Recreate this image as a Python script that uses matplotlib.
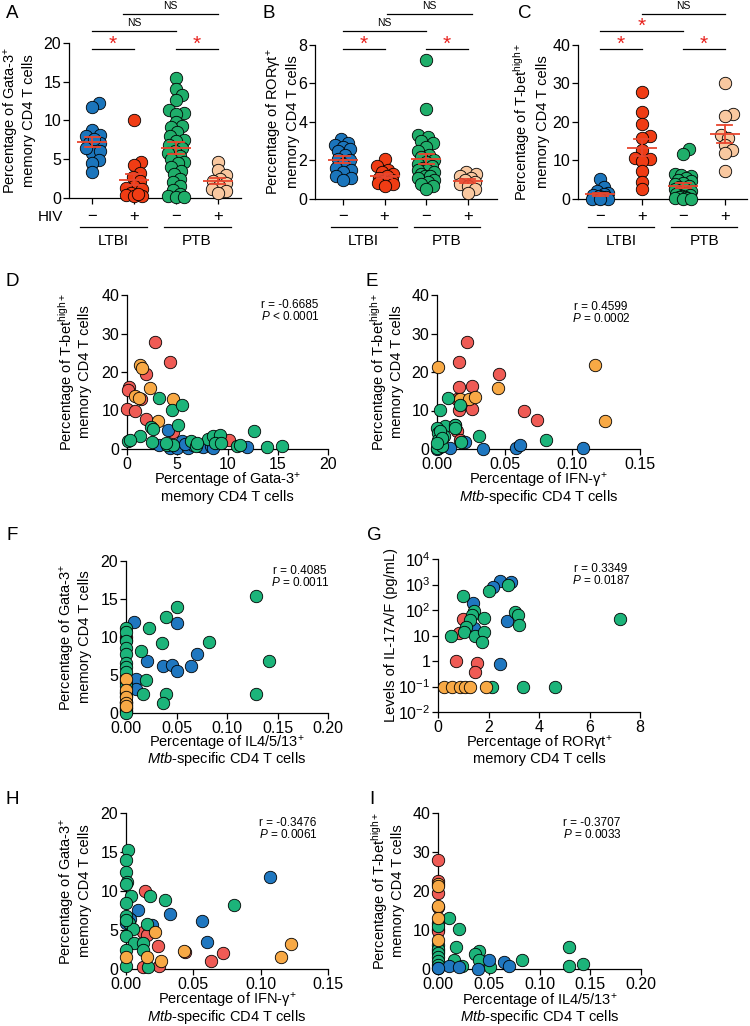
import numpy as np
import matplotlib
matplotlib.use("Agg")
import matplotlib.pyplot as plt
from matplotlib.transforms import blended_transform_factory

plt.rcParams['font.family'] = ['Liberation Sans', 'DejaVu Sans']
plt.rcParams['mathtext.fontset'] = 'custom'
plt.rcParams['mathtext.rm'] = 'Liberation Sans'
plt.rcParams['mathtext.it'] = 'Liberation Sans:italic'
plt.rcParams['mathtext.bf'] = 'Liberation Sans:bold'
plt.rcParams['axes.unicode_minus'] = False

# ---------------- data: top dot plots ----------------
groups_top = ["LTBI HIV-", "LTBI HIV+", "PTB HIV-", "PTB HIV+"]
hiv_signs = ["\u2212", "+", "\u2212", "+"]
group_names = ["LTBI", "PTB"]

gata_ltbi_neg = [12.2, 11.8, 8.8, 8.0, 8.1, 7.1, 6.7, 7.1, 5.8, 6.0, 4.9, 4.5, 3.4, 6.4, 7.6]
gata_ltbi_pos = [10.0, 4.7, 4.3, 3.2, 2.7, 2.2, 1.6, 1.3, 1.1, 0.7, 0.4, 0.2, 0.3, 0.5]
gata_ptb_neg = [15.5, 14.1, 13.3, 12.6, 11.3, 11.0, 10.8, 9.8, 9.3, 9.2, 8.5, 8.0, 7.5, 7.3,
                6.8, 6.5, 6.1, 5.8, 5.4, 5.0, 4.6, 4.5, 4.0, 3.5, 3.1, 2.5, 2.0, 1.5, 1.0,
                0.5, 0.2, 0.1, 0.1]
gata_ptb_pos = [4.7, 3.6, 3.0, 2.5, 2.2, 1.9, 1.6, 1.2, 0.9, 0.6]

ror_ltbi_neg = [3.1, 2.9, 2.8, 2.7, 2.6, 2.5, 2.3, 2.1, 2.0, 1.8, 1.6, 1.5, 1.4, 1.2, 1.1, 1.0]
ror_ltbi_pos = [2.1, 1.7, 1.5, 1.4, 1.3, 1.2, 1.1, 1.0, 0.95, 0.9, 0.85, 0.8, 0.7]
ror_ptb_neg = [7.2, 4.65, 3.35, 3.2, 3.0, 2.9, 2.7, 2.5, 2.3, 2.2, 2.0, 1.9, 1.8, 1.7, 1.6,
               1.5, 1.5, 1.4, 1.3, 1.2, 1.2, 1.1, 1.0, 0.9, 0.8, 0.7, 0.5]
ror_ptb_pos = [1.4, 1.3, 1.2, 1.1, 1.0, 0.9, 0.8, 0.7, 0.5, 0.3]

tbet_ltbi_neg = [5.2, 3.0, 2.2, 1.5, 1.2, 1.0, 0.8, 0.5, 0.4, 0.3, 0.2, 0.1, 0.1, 0.0]
tbet_ltbi_pos = [27.8, 22.6, 19.5, 16.4, 15.8, 12.6, 10.6, 10.3, 9.8, 7.3, 4.5, 2.5]
tbet_ptb_neg = [13.0, 11.7, 6.6, 6.3, 5.9, 5.4, 5.0, 4.6, 4.2, 3.8, 3.4, 3.1, 2.8, 2.5, 2.2,
                1.9, 1.6, 1.3, 1.0, 0.8, 0.6, 0.4, 0.3, 0.2, 0.1, 0.1]
tbet_ptb_pos = [30.2, 22.0, 21.5, 16.5, 15.8, 14.0, 12.8, 12.0, 7.4]

# ---------------- data: correlation panels ----------------
# D: Gata-3 (x) vs T-bet high (y)
d_blue_x = [4.1, 3.2, 4.3, 5.0, 5.5, 6.1, 6.6, 7.3, 7.6, 8.4, 11.9, 8.6, 5.8]
d_blue_y = [5.0, 1.1, 0.3, 0.3, 2.2, 0.3, 1.1, 0.7, 0.4, 0.7, 0.4, 0.3, 1.3]
d_red_x = [2.74, 4.23, 1.88, 0.2, 0.1, 0.0, 0.8, 1.9, 4.6, 10.1, 1.4]
d_red_y = [27.9, 22.7, 19.4, 16.1, 15.4, 10.4, 9.8, 7.8, 4.4, 2.4, 12.9]
d_green_x = [3.2, 4.5, 5.5, 5.1, 2.4, 1.3, 0.1, 0.3, 2.5, 4.0, 4.6, 6.4, 6.9, 8.1, 8.6, 9.3,
             8.8, 9.4, 10.9, 11.2, 12.6, 13.9, 15.4, 7.0, 2.6, 3.9]
d_green_y = [13.2, 10.2, 11.5, 6.3, 5.7, 3.3, 2.0, 2.3, 1.8, 1.1, 1.0, 2.0, 0.8, 2.6, 3.3, 3.7,
             1.6, 1.6, 0.7, 1.0, 4.6, 0.4, 0.7, 1.5, 5.2, 1.5]
d_orange_x = [1.32, 1.5, 2.3, 0.83, 1.2, 4.56, 3.1]
d_orange_y = [21.9, 21.0, 15.8, 13.8, 13.2, 12.9, 7.4]

# E: IFN-g (x) vs T-bet high (y)
e_blue_x = [0.0098, 0.0204, 0.0337, 0.0583, 0.0615, 0.108, 0.0, 0.002]
e_blue_y = [0.3, 1.8, 0.0, 0.3, 1.1, 0.3, 0.0, 0.6]
e_red_x = [0.0221, 0.0165, 0.0455, 0.0165, 0.0258, 0.0148, 0.016, 0.0258, 0.0644, 0.0738,
           0.0135, 0.015, 0.017]
e_red_y = [27.9, 22.7, 19.4, 16.0, 16.3, 13.0, 10.2, 10.4, 9.8, 7.6, 6.3, 4.6, 2.4]
e_green_x = [0.0081, 0.0025, 0.0172, 0.0061, 0.0135, 0.0, 0.001, 0.005, 0.001, 0.001, 0.0,
             0.0307, 0.0806, 0.018, 0.0135, 0.0037, 0.002, 0.004, 0.0]
e_green_y = [13.2, 10.2, 11.5, 6.1, 6.3, 5.4, 4.1, 3.5, 2.4, 1.1, 0.3, 3.5, 2.4, 1.8, 5.4,
             0.7, 4.8, 2.9, 1.6]
e_orange_x = [0.001, 0.1168, 0.0452, 0.0172, 0.0234, 0.0278, 0.1242]
e_orange_y = [21.3, 21.9, 15.8, 13.0, 13.0, 13.5, 7.2]

# F: IL4/5/13 (x) vs Gata-3 (y)
f_blue_x = [0.0083, 0.0502, 0.0205, 0.070, 0.037, 0.0453, 0.0502, 0.0645, 0.01, 0.01]
f_blue_y = [12.0, 11.8, 6.9, 7.7, 6.2, 6.3, 5.5, 6.2, 4.5, 3.1]
f_red_x = [0.0, 0.0, 0.0, 0.0, 0.0, 0.0, 0.0, 0.0, 0.0, 0.0, 0.0]
f_red_y = [10.0, 9.6, 4.8, 4.2, 2.8, 2.3, 1.5, 1.0, 0.6, 0.3, 0.2]
f_green_x = [0.129, 0.0509, 0.0397, 0.0231, 0.036, 0.0826, 0.0145, 0.142, 0.0195, 0.0172,
             0.0393, 0.0364, 0.129, 0.0, 0.0, 0.0, 0.0, 0.0, 0.0, 0.0, 0.0, 0.0, 0.0, 0.0,
             0.0, 0.0, 0.0]
f_green_y = [15.4, 14.0, 12.6, 11.2, 9.2, 9.3, 8.1, 6.9, 4.4, 2.5, 2.5, 1.3, 2.5, 11.2, 10.6,
             9.5, 8.6, 7.8, 6.6, 6.0, 5.4, 4.0, 3.6, 2.6, 1.5, 0.6, 0.0]
f_orange_x = [0.0, 0.0, 0.0, 0.0, 0.0]
f_orange_y = [4.5, 3.0, 2.1, 1.3, 0.9]

# G: ROR-gt (x) vs IL-17A/F pg/mL (y, log)
g_blue_x = [2.45, 2.18, 2.88, 1.39, 2.75, 1.43, 2.45]
g_blue_y = [1400, 830, 1200, 185, 37, 19, 0.76]
g_red_x = [0.99, 0.82, 0.73, 1.56, 1.46]
g_red_y = [45, 13, 1.0, 0.87, 0.38]
g_green_x = [0.99, 2.02, 2.78, 3.04, 3.17, 3.2, 7.21, 1.43, 1.35, 1.26, 1.83, 1.12, 1.03, 0.5,
             1.46, 1.83, 1.76, 2.14, 3.37, 4.63]
g_green_y = [360, 560, 980, 87, 65, 25, 44, 91, 65, 41, 50, 22, 14, 9.8, 9.8, 14, 5.4, 0.1,
             0.1, 0.1]
g_orange_x = [0.24, 0.56, 0.86, 1.08, 1.28, 1.89]
g_orange_y = [0.1, 0.1, 0.1, 0.1, 0.1, 0.1]

# H: IFN-g (x) vs Gata-3 (y)
h_blue_x = [0.1072, 0.0086, 0.0326, 0.0568, 0.0603, 0.003, 0.019, 0.0]
h_blue_y = [11.75, 7.6, 7.0, 6.2, 3.5, 6.45, 5.7, 5.9]
h_red_x = [0.0141, 0.0128, 0.024, 0.0721, 0.063, 0.0437, 0.0247, 0.0128, 0.0153]
h_red_y = [10.0, 4.7, 2.9, 2.05, 1.07, 2.2, 0.4, 0.25, 4.3]
h_green_x = [0.0012, 0.0, 0.0, 0.0005, 0.0, 0.0037, 0.0, 0.0, 0.0025, 0.0054, 0.0, 0.0062, 0.0,
             0.0128, 0.0128, 0.0153, 0.0178, 0.0289, 0.0803, 0.0, 0.0166, 0.0]
h_green_y = [15.3, 14.0, 12.5, 11.2, 10.9, 9.3, 8.5, 6.75, 5.9, 5.1, 4.2, 3.3, 2.5, 3.3, 2.5,
             5.8, 9.4, 8.8, 8.2, 0.4, 0.3, 6.3]
h_orange_x = [0.0215, 0.0432, 0.0153, 0.0259, 0.0, 0.1228, 0.1154]
h_orange_y = [4.7, 2.35, 1.5, 1.0, 1.6, 3.25, 1.5]

# I: IL4/5/13 (x) vs T-bet high (y)
i_blue_x = [0.0105, 0.021, 0.039, 0.05, 0.0647, 0.0703, 0.0]
i_blue_y = [0.7, 0.4, 0.0, 2.4, 1.7, 0.7, 0.2]
i_red_x = [0.0, 0.0, 0.0, 0.0, 0.0, 0.0, 0.0]
i_red_y = [27.9, 22.6, 19.4, 15.8, 10.3, 9.8, 4.5]
i_green_x = [0.0105, 0.021, 0.0177, 0.0407, 0.0368, 0.04, 0.0154, 0.0236, 0.0509, 0.0828,
             0.1287, 0.1287, 0.1425, 0.0, 0.0, 0.0, 0.0, 0.0, 0.0, 0.0, 0.0, 0.0]
i_green_y = [13.2, 10.3, 5.6, 4.7, 3.85, 2.4, 2.4, 0.7, 0.5, 2.2, 5.6, 0.85, 1.4, 11.8, 11.0,
             6.2, 5.2, 4.1, 3.2, 2.1, 1.1, 0.3]
i_orange_x = [0.0, 0.0, 0.0, 0.0, 0.0]
i_orange_y = [21.9, 21.2, 16.1, 13.2, 7.5]

# ---------------- style ----------------
W, H = 750, 1026
TOP_COLORS = ['#1b75bc', '#f03c14', '#1fae6a', '#f9c8a0']
SC_BLUE, SC_RED, SC_GREEN, SC_ORANGE = '#1f77c0', '#ef5b55', '#1cb47a', '#f8a945'
MEAN_COL = '#e8462e'
STAR_COL = '#e8201c'
MS = 80
TICK_FS = 11.5
LAB_FS = 10.5
LETTER_FS = 13.5

fig = plt.figure(figsize=(W / 100, H / 100), dpi=100)


def add_ax(l, t, r, b):
    return fig.add_axes([l / W, 1 - b / H, (r - l) / W, (b - t) / H])


def fy(py):
    return 1 - py / H


def fx(px):
    return px / W


def style_axes(ax):
    for s in ['top', 'right']:
        ax.spines[s].set_visible(False)
    for s in ['left', 'bottom']:
        ax.spines[s].set_linewidth(0.9)
    ax.tick_params(direction='out', length=4, width=0.9, labelsize=TICK_FS, pad=1.5)


def hline_text(xc, yc, s, fs=LAB_FS):
    fig.text(fx(xc), fy(yc + 4.5), s, ha='center', va='baseline', fontsize=fs)


def vline_text(xc, yc, s, fs=LAB_FS):
    fig.text(fx(xc + 4.5), fy(yc), s, rotation=90, rotation_mode='anchor', ha='center',
             va='baseline', fontsize=fs)


def swarm_offsets(vals, ppu_y, ppc_x, diam=12.0, mind=0.62, maxoff=8.0):
    vals = np.asarray(vals, dtype=float)
    order = np.argsort(vals)
    placed = []
    offs = np.zeros(len(vals))
    cands = [0.0]
    k = 1.0
    while k <= maxoff:
        cands += [k, -k]
        k += 1.0
    thr = (mind * diam) ** 2
    for i in order:
        y = vals[i] * ppu_y
        best = None
        bestd = -1
        bestc = 0.0
        for c in cands:
            dmin = min([(c - px) ** 2 + (y - py) ** 2 for px, py in placed], default=1e9)
            if dmin >= thr:
                best = c
                break
            if dmin > bestd:
                bestd = dmin
                bestc = c
        if best is None:
            best = bestc
        placed.append((best, y))
        offs[i] = best
    return offs / ppc_x


def dot_panel(l, t, r, b, xlim, ymax, yticks, data, bars, ylab_lines, ylab_xs, letter, letter_x,
              hiv_label=False):
    ax = add_ax(l, t, r, b)
    style_axes(ax)
    ax.set_xlim(*xlim)
    ax.set_ylim(0, ymax)
    ax.set_yticks(yticks)
    ax.set_xticks(range(4))
    ax.set_xticklabels([])
    ppu_y = (b - t) / ymax
    ppc_x = (r - l) / (xlim[1] - xlim[0])
    for i, vals in enumerate(data):
        offs = swarm_offsets(vals, ppu_y, ppc_x)
        ax.scatter(i + offs, vals, s=MS, c=TOP_COLORS[i], edgecolors='black', linewidths=0.6,
                   zorder=3, clip_on=False)
        v = np.asarray(vals)
        m = v.mean()
        se = v.std(ddof=1) / np.sqrt(len(v))
        ax.plot([i - 0.36, i + 0.36], [m, m], color=MEAN_COL, lw=1.3, zorder=5, solid_capstyle='butt')
        ax.plot([i - 0.18, i + 0.18], [m + se, m + se], color=MEAN_COL, lw=1.3, zorder=5)
        ax.plot([i - 0.18, i + 0.18], [m - se, m - se], color=MEAN_COL, lw=1.3, zorder=5)
        ax.plot([i, i], [m - se, m + se], color=MEAN_COL, lw=1.3, zorder=5)
    bt = blended_transform_factory(ax.transData, fig.transFigure)
    for i, sgn in enumerate(hiv_signs):
        ax.text(i, fy(217), sgn, transform=bt, ha='center', va='center', fontsize=12)
    for gi, name in enumerate(group_names):
        x0, x1 = 2 * gi - 0.29, 2 * gi + 1.3
        ax.plot([x0, x1], [fy(227), fy(227)], transform=bt, color='black', lw=0.9, clip_on=False)
        ax.text(2 * gi + 0.5, fy(241), name, transform=bt, ha='center', va='center', fontsize=11)
    for (x0, x1, ypx, lab) in bars:
        ax.plot([x0, x1], [fy(ypx), fy(ypx)], transform=bt, color='black', lw=0.9, clip_on=False)
        if lab == '*':
            ax.text((x0 + x1) / 2, fy(ypx - 5), '*', transform=bt, ha='center', va='center',
                    fontsize=15, color=STAR_COL)
        else:
            ax.text((x0 + x1) / 2, fy(ypx - 8), lab, transform=bt, ha='center', va='center',
                    fontsize=7.5)
    for s, xc in zip(ylab_lines, ylab_xs):
        vline_text(xc, (t + b) / 2, s)
    fig.text(fx(letter_x), fy(14), letter, ha='center', va='center', fontsize=LETTER_FS)
    if hiv_label:
        fig.text(fx(50), fy(217), 'HIV', ha='center', va='center', fontsize=11)
    return ax


lbl_gata = ['Percentage of Gata-3$^{+}$', 'memory CD4 T cells']
lbl_tbet = ['Percentage of T-bet$^{\\rm high+}$', 'memory CD4 T cells']
lbl_ifn = ['Percentage of IFN-\u03b3$^{+}$', '$\\it{Mtb}$-specific CD4 T cells']
lbl_il4 = ['Percentage of IL4/5/13$^{+}$', '$\\it{Mtb}$-specific CD4 T cells']
lbl_ror = ['Percentage of ROR\u03b3t$^{+}$', 'memory CD4 T cells']
lbl_il17 = ['Levels of IL-17A/F (pg/mL)']

dot_panel(69, 43, 241, 198, (-0.55, 3.55), 20, [0, 5, 10, 15, 20],
          [gata_ltbi_neg, gata_ltbi_pos, gata_ptb_neg, gata_ptb_pos],
          [(0, 1, 49, '*'), (2, 3, 49, '*'), (0, 2, 31, 'NS'), (0.74, 3, 14, 'NS')],
          lbl_gata, [11, 29], 'A', 12, hiv_label=True)
dot_panel(315, 45, 497, 199, (-0.67, 3.7), 8, [0, 2, 4, 6, 8],
          [ror_ltbi_neg, ror_ltbi_pos, ror_ptb_neg, ror_ptb_pos],
          [(0, 1, 49, '*'), (2, 3, 49, '*'), (0, 2, 31, 'NS'), (1.05, 3.1, 14, 'NS')],
          lbl_ror, [274, 293], 'B', 269)
dot_panel(578, 45, 747, 199, (-0.53, 3.53), 40, [0, 10, 20, 30, 40],
          [tbet_ltbi_neg, tbet_ltbi_pos, tbet_ptb_neg, tbet_ptb_pos],
          [(0, 1, 49, '*'), (2, 3, 49, '*'), (0, 2, 31, '*'), (1.0, 3.0, 14, 'NS')],
          lbl_tbet, [522, 542], 'C', 525)


def scatter_panel(l, t, r, b, xlim, ylim, xticks, xtl, yticks, ytl, groups, xlab_lines, ylab_lines,
                  ylab_xs, xlab_ys, stat_lines, stat_xy, letter, letter_xy, logy=False):
    ax = add_ax(l, t, r, b)
    style_axes(ax)
    if logy:
        ax.set_yscale('log')
    ax.set_xlim(*xlim)
    ax.set_ylim(*ylim)
    ax.set_xticks(xticks)
    ax.set_xticklabels(xtl)
    ax.set_yticks(yticks)
    ax.set_yticklabels(ytl)
    if logy:
        ax.tick_params(which='minor', direction='out', length=2, width=0.6)
    for xs, ys, col in groups:
        ax.scatter(xs, ys, s=MS, c=col, edgecolors='black', linewidths=0.6, zorder=3,
                   clip_on=False)
    for s, yc in zip(xlab_lines, xlab_ys):
        hline_text((l + r) / 2, yc, s)
    for s, xc in zip(ylab_lines, ylab_xs):
        vline_text(xc, (t + b) / 2, s)
    for k, s in enumerate(stat_lines):
        hline_text(stat_xy[0], stat_xy[1] + 12 * k, s, fs=8.5)
    fig.text(fx(letter_xy[0]), fy(letter_xy[1]), letter, ha='center', va='center', fontsize=LETTER_FS)
    return ax


t015 = [0, 0.05, 0.10, 0.15]
t020 = [0, 0.05, 0.10, 0.15, 0.20]
fmt2 = lambda ts: ['%.2f' % v for v in ts]
t40 = [0, 10, 20, 30, 40]
t20 = [0, 5, 10, 15, 20]
s_ = lambda ts: [str(v) for v in ts]

scatter_panel(127, 295, 328, 449, (0, 20), (0, 40), t20, s_(t20), t40, s_(t40),
              [(d_red_x, d_red_y, SC_RED), (d_orange_x, d_orange_y, SC_ORANGE),
               (d_blue_x, d_blue_y, SC_BLUE), (d_green_x, d_green_y, SC_GREEN)],
              lbl_gata, lbl_tbet, [67, 84], [480, 496],
              ['r = -0.6685', '$\\it{P}$ < 0.0001'], (290, 303), 'D', (12, 281))
scatter_panel(437, 295, 640, 449, (0, 0.15), (0, 40), t015, fmt2(t015), t40, s_(t40),
              [(e_red_x, e_red_y, SC_RED), (e_orange_x, e_orange_y, SC_ORANGE),
               (e_blue_x, e_blue_y, SC_BLUE), (e_green_x, e_green_y, SC_GREEN)],
              lbl_ifn, lbl_tbet, [379, 397], [480, 496],
              ['r = 0.4599', '$\\it{P}$ = 0.0002'], (601, 306), 'E', (372, 281))
scatter_panel(126, 561, 328, 713, (0, 0.20), (0, 20), t020, fmt2(t020), t20, s_(t20),
              [(f_red_x, f_red_y, SC_RED), (f_blue_x, f_blue_y, SC_BLUE),
               (f_green_x, f_green_y, SC_GREEN), (f_orange_x, f_orange_y, SC_ORANGE)],
              lbl_il4, lbl_gata, [67, 84], [743, 759],
              ['r = 0.4085', '$\\it{P}$ = 0.0011'], (300, 570), 'F', (12, 535))
scatter_panel(438, 559, 640, 712, (0, 8), (1e-2, 1e4), [0, 2, 4, 6, 8], ['0', '2', '4', '6', '8'],
              [1e-2, 1e-1, 1, 10, 1e2, 1e3, 1e4],
              ['10$^{-2}$', '10$^{-1}$', '1', '10', '10$^{2}$', '10$^{3}$', '10$^{4}$'],
              [(g_red_x, g_red_y, SC_RED), (g_blue_x, g_blue_y, SC_BLUE),
               (g_green_x, g_green_y, SC_GREEN), (g_orange_x, g_orange_y, SC_ORANGE)],
              lbl_ror, lbl_il17, [390], [743, 759],
              ['r = 0.3349', '$\\it{P}$ = 0.0187'], (601, 568), 'G', (374, 535), logy=True)
scatter_panel(126, 813, 328, 969, (0, 0.15), (0, 20), t015, fmt2(t015), t20, s_(t20),
              [(h_red_x, h_red_y, SC_RED), (h_blue_x, h_blue_y, SC_BLUE),
               (h_green_x, h_green_y, SC_GREEN), (h_orange_x, h_orange_y, SC_ORANGE)],
              lbl_ifn, lbl_gata, [67, 84], [1000, 1016],
              ['r = -0.3476', '$\\it{P}$ = 0.0061'], (288, 822), 'H', (12, 800))
scatter_panel(438, 813, 641, 969, (0, 0.20), (0, 40), t020, fmt2(t020), t40, s_(t40),
              [(i_red_x, i_red_y, SC_RED), (i_green_x, i_green_y, SC_GREEN),
               (i_blue_x, i_blue_y, SC_BLUE), (i_orange_x, i_orange_y, SC_ORANGE)],
              lbl_il4, lbl_tbet, [380, 398], [1001, 1017],
              ['r = -0.3707', '$\\it{P}$ = 0.0033'], (592, 822), 'I', (372, 800))

fig.savefig('out.png', dpi=100)
